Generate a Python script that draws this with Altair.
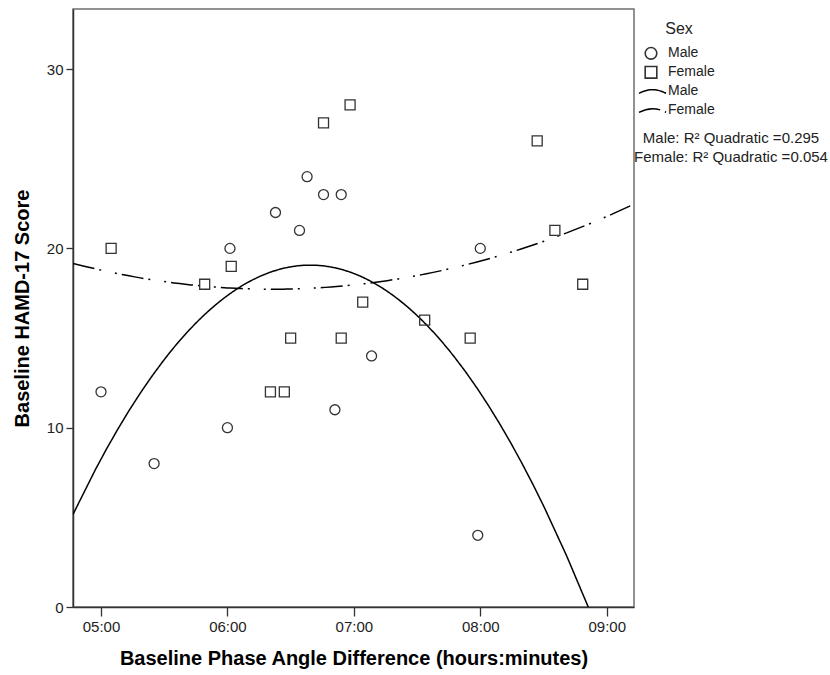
import altair as alt
import pandas as pd

# ---- data ----
male_hours = [5.00, 5.42, 6.00, 6.02, 6.38, 6.57, 6.63, 6.76, 6.90, 6.85, 7.14, 8.00, 7.98]
male_score = [12, 8, 10, 20, 22, 21, 24, 23, 23, 11, 14, 20, 4]

female_hours = [5.08, 5.82, 6.03, 6.34, 6.45, 6.50, 6.76, 6.97, 6.90, 7.07, 7.56, 7.92, 8.45, 8.59, 8.81]
female_score = [20, 18, 19, 12, 12, 15, 27, 28, 15, 17, 16, 15, 26, 21, 18]

sexes = ["Male", "Female"]
fit_names = ["Male fit", "Female fit"]
r2_values = [0.295, 0.054]

x_ticks = [5, 6, 7, 8, 9]
y_ticks = [0, 10, 20, 30]
x_domain = [4.7785, 9.2157]
y_domain = [0, 33.35]

df = pd.DataFrame({
    "hours": male_hours + female_hours,
    "score": male_score + female_score,
    "Sex": ["Male"] * len(male_hours) + ["Female"] * len(female_hours),
})

FONT = "Liberation Sans"
INK = "#222222"

x_enc = alt.X(
    "hours:Q",
    scale=alt.Scale(domain=x_domain, nice=False, zero=False),
    axis=alt.Axis(
        values=x_ticks,
        labelExpr="'0' + datum.value + ':00'",
        title="Baseline Phase Angle Difference (hours:minutes)",
        tickSize=9,
        labelPadding=3,
        titlePadding=14,
    ),
)
y_enc = alt.Y(
    "score:Q",
    scale=alt.Scale(domain=y_domain, nice=False, zero=False),
    axis=alt.Axis(
        values=y_ticks,
        title="Baseline HAMD-17 Score",
        tickSize=7,
        labelPadding=3,
        titlePadding=14,
    ),
)

points = alt.Chart(df).mark_point(
    filled=False, size=100, strokeWidth=1.3, color="#333333", opacity=1
).encode(
    x=x_enc,
    y=y_enc,
    shape=alt.Shape(
        "Sex:N",
        scale=alt.Scale(domain=sexes, range=["circle", "square"]),
        legend=alt.Legend(
            title="Sex",
            orient="none",
            legendX=571,
            legendY=12,
            padding=0,
            titleFontSize=16,
            titleFontWeight="normal",
            titleFont=FONT,
            titleColor=INK,
            titleAnchor="middle",
            titlePadding=7,
            labelFont=FONT,
            labelFontSize=14,
            labelColor=INK,
            labelOffset=10,
            rowPadding=0,
            clipHeight=18.7,
            symbolSize=135,
            symbolStrokeWidth=1.6,
            symbolStrokeColor="#333333",
        ),
    ),
)

fits = alt.Chart(df).transform_regression(
    "hours", "score", method="poly", order=2, groupby=["Sex"], extent=x_domain
).transform_calculate(
    Fit="datum.Sex + ' fit'"
).mark_line(color="black", strokeWidth=1.5, clip=True).encode(
    x=alt.X("hours:Q"),
    y=alt.Y("score:Q"),
    strokeDash=alt.StrokeDash(
        "Fit:N",
        scale=alt.Scale(domain=fit_names, range=[[1, 0], [22, 5, 2, 14, 2, 5]]),
        legend=alt.Legend(
            title=None,
            orient="none",
            legendX=565,
            legendY=73,
            padding=0,
            labelExpr="replace(datum.label, ' fit', '')",
            labelFont=FONT,
            labelFontSize=14,
            labelColor=INK,
            labelOffset=1,
            rowPadding=0,
            clipHeight=18.7,
            symbolType="M -1 0.15 Q 0 -0.4 1 0.15",
            symbolSize=729,
            symbolStrokeWidth=1.5,
            symbolStrokeColor="black",
            symbolFillColor="transparent",
        ),
    ),
)

r2_layers = []
for i, (s, v) in enumerate(zip(sexes, r2_values)):
    txt = f"{s}: R\u00b2 Quadratic ={v:.3f}"
    r2_layers.append(
        alt.Chart(pd.DataFrame({"t": [txt]})).mark_text(
            font=FONT, fontSize=15, color=INK, align="center", baseline="middle"
        ).encode(x=alt.value(658), y=alt.value(129 + 19 * i), text="t:N")
    )

chart = alt.layer(fits, points, *r2_layers).properties(
    width=561,
    height=598,
    autosize=alt.AutoSizeParams(type="none"),
    padding={"left": 73, "top": 9, "right": 196, "bottom": 68},
    background="white",
).configure_view(
    stroke="#6f6f6f", strokeWidth=1.5
).configure_axis(
    grid=False,
    labelFont=FONT,
    labelFontSize=15,
    labelColor=INK,
    titleFont=FONT,
    titleFontSize=20,
    titleFontWeight="bold",
    titleColor="black",
    domainColor="#333333",
    domainWidth=1.5,
    tickColor="#333333",
    tickWidth=1.3,
)

chart.save("out.html", embed_options={"renderer": "svg", "actions": False})
